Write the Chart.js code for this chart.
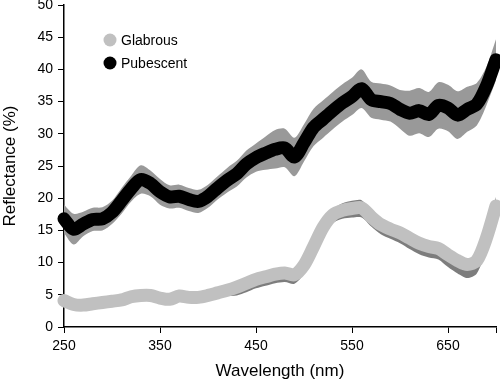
<!DOCTYPE html>
<html>
<head>
<meta charset="utf-8">
<script src="https://cdn.jsdelivr.net/npm/chart.js@4.4.0/dist/chart.umd.min.js"></script>
<style>
  html, body { margin: 0; padding: 0; background: #fff; }
  #wrap { width: 500px; height: 383px; }
</style>
</head>
<body>
<div id="wrap"><canvas id="chart"></canvas></div>
<script>
// wavelength (nm), every 10 nm
const wavelengths = [250, 260, 270, 280, 290, 300, 310, 320, 330, 340,
                     350, 360, 370, 380, 390, 400, 410, 420, 430, 440,
                     450, 460, 470, 480, 490, 500, 510, 520, 530, 540,
                     550, 560, 570, 580, 590, 600, 610, 620, 630, 640,
                     650, 660, 670, 680, 690, 700];

// mean reflectance (%)
const pubescent = [16.8, 15.2, 16.0, 16.7, 16.8, 17.8, 19.6, 21.5, 22.9, 22.3,
                   21.0, 20.2, 20.3, 19.8, 19.5, 20.3, 21.6, 22.8, 23.8, 25.3,
                   26.3, 27.0, 27.6, 27.8, 26.4, 28.6, 31.0, 32.3, 33.6, 34.8,
                   35.8, 37.0, 35.3, 35.0, 34.7, 33.8, 33.2, 33.6, 33.0, 34.4,
                   34.0, 32.9, 33.8, 34.6, 37.4, 41.5];
const glabrous  = [4.1, 3.5, 3.4, 3.6, 3.8, 4.0, 4.2, 4.7, 4.9, 4.9,
                   4.5, 4.3, 4.8, 4.6, 4.6, 4.9, 5.3, 5.7, 6.2, 6.8,
                   7.4, 7.8, 8.2, 8.4, 8.1, 9.6, 12.5, 15.5, 17.4, 18.1,
                   18.4, 18.5, 17.1, 15.9, 15.2, 14.6, 13.8, 13.0, 12.5, 12.2,
                   11.2, 10.3, 9.7, 10.3, 13.8, 18.8];

// spread of the shaded band (%)
const pubescentSpread = [2.2, 2.4, 1.9, 1.8, 1.8, 1.8, 2.0, 2.0, 2.2, 2.0,
                         2.0, 1.8, 1.8, 1.8, 1.8, 1.8, 1.8, 1.9, 2.0, 2.1,
                         2.2, 2.6, 3.0, 3.0, 3.0, 2.9, 2.9, 2.9, 2.9, 2.9,
                         2.9, 3.0, 2.8, 2.8, 2.8, 3.0, 3.5, 3.5, 3.5, 3.6,
                         3.6, 3.7, 3.5, 3.3, 3.0, 3.2];
const glabrousBelow   = [0.6, 0.6, 0.6, 0.6, 0.6, 0.6, 0.6, 0.6, 0.6, 0.6,
                         0.6, 0.6, 0.6, 0.6, 0.6, 0.6, 0.7, 0.9, 1.3, 1.4,
                         1.4, 1.4, 1.4, 1.4, 1.4, 1.3, 1.3, 1.3, 1.3, 1.3,
                         1.4, 1.5, 1.5, 1.5, 1.5, 1.6, 1.7, 1.7, 1.7, 1.7,
                         1.9, 2.0, 2.1, 2.0, 1.6, 1.0];
const glabrousAbove   = [0.6, 0.6, 0.6, 0.6, 0.6, 0.6, 0.6, 0.6, 0.6, 0.6,
                         0.6, 0.6, 0.6, 0.6, 0.6, 0.6, 0.6, 0.6, 0.6, 0.6,
                         0.6, 0.6, 0.6, 0.6, 0.6, 0.6, 0.6, 0.6, 0.8, 1.1,
                         1.2, 1.2, 0.9, 0.7, 0.7, 0.6, 0.6, 0.6, 0.6, 0.6,
                         0.6, 0.6, 0.6, 0.6, 0.9, 1.4];

const xTicks = [250, 350, 450, 550, 650, 700];
const xLabels = ['250', '350', '450', '550', '650', ''];

const series = [
    { label: 'Glabrous', color: '#c0c0c0' },
    { label: 'Pubescent', color: '#000000' },
];

const pts = (vals) => wavelengths.map((w, i) => ({ x: w, y: vals[i] }));

// band datasets (lower edge, then upper edge filled down to it)
const band = (vals, color, fillTo) => ({
    data: pts(vals),
    borderWidth: 0,
    pointRadius: 0,
    tension: 0.3,
    fill: fillTo === undefined ? false : fillTo,
    backgroundColor: color,
    order: 5,
});

const line = (vals, color) => ({
    data: pts(vals),
    borderColor: color,
    borderWidth: 13,
    borderCapStyle: 'round',
    borderJoinStyle: 'round',
    pointRadius: 0,
    tension: 0.3,
    fill: false,
    order: 1,
    clip: false,
});

// custom legend drawn inside the plot
const innerLegend = {
    id: 'innerLegend',
    afterDraw(chart) {
        const ctx = chart.ctx;
        const left = chart.chartArea.left;
        ctx.save();
        ctx.font = '14px "Liberation Sans", Arial, sans-serif';
        ctx.textBaseline = 'middle';
        series.forEach((s, i) => {
            const y = 40 + i * 23;
            ctx.fillStyle = s.color;
            ctx.beginPath();
            ctx.arc(left + 46, y, 6.5, 0, Math.PI * 2);
            ctx.fill();
            ctx.fillStyle = '#000';
            ctx.fillText(s.label, left + 57, y + 1);
        });
        ctx.restore();
    }
};

Chart.defaults.font.family = '"Liberation Sans", Arial, sans-serif';
Chart.defaults.font.size = 14;
Chart.defaults.color = '#000';

const ctx = document.getElementById('chart').getContext('2d');
new Chart(ctx, {
    type: 'line',
    data: {
        datasets: [
            band(glabrous.map((v, i) => v - glabrousBelow[i]), '#7d7d7d'),
            band(glabrous.map((v, i) => v + glabrousAbove[i]), '#7d7d7d', 0),
            band(pubescent.map((v, i) => v - pubescentSpread[i]), '#999999'),
            band(pubescent.map((v, i) => v + pubescentSpread[i]), '#999999', 2),
            line(glabrous, series[0].color),
            line(pubescent, series[1].color),
        ],
    },
    options: {
        responsive: true,
        maintainAspectRatio: false,
        animation: false,
        layout: { padding: { left: 0, right: 4, top: 5, bottom: 0 } },
        plugins: {
            legend: { display: false },
            tooltip: { enabled: false },
        },
        scales: {
            x: {
                type: 'linear',
                min: 250,
                max: 700,
                afterBuildTicks: (scale) => { scale.ticks = xTicks.map(v => ({ value: v })); },
                afterFit: (scale) => { scale.height = 56; scale.paddingLeft = 0; scale.paddingRight = 0; },
                ticks: {
                    padding: 5,
                    maxRotation: 0,
                    callback: (v) => xLabels[xTicks.indexOf(v)],
                },
                grid: { drawOnChartArea: false, drawTicks: true, tickLength: 6, color: '#000' },
                border: { display: true, color: '#000', width: 1.5 },
                title: {
                    display: true,
                    text: 'Wavelength (nm)',
                    font: { size: 17 },
                    padding: { top: 0, bottom: 1 },
                },
            },
            y: {
                min: 0,
                max: 50,
                afterFit: (scale) => { scale.width = 64; scale.paddingTop = 0; scale.paddingBottom = 0; },
                ticks: { stepSize: 5, padding: 5 },
                grid: { drawOnChartArea: false, drawTicks: true, tickLength: 6, color: '#000' },
                border: { display: true, color: '#000', width: 1.5 },
                title: {
                    display: true,
                    text: 'Reflectance (%)',
                    font: { size: 17 },
                    padding: { top: 0, bottom: 0 },
                },
            },
        },
    },
    plugins: [innerLegend],
});
</script>
</body>
</html>
